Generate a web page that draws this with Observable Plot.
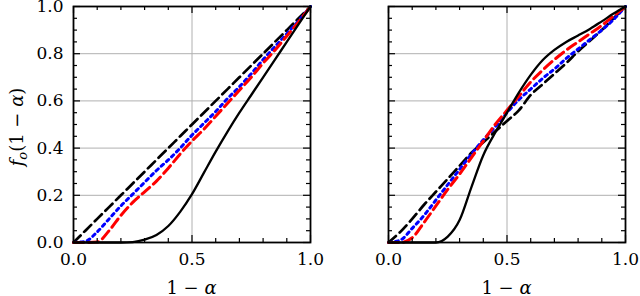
<!DOCTYPE html>
<html>
<head>
<meta charset="utf-8">
<script src="https://cdn.jsdelivr.net/npm/d3@7"></script>
<script src="https://cdn.jsdelivr.net/npm/@observablehq/plot@0.6"></script>
<style>
  html, body { margin: 0; padding: 0; background: white; }
  #wrap { position: relative; width: 640px; height: 296px; overflow: hidden; background: white; font-family: "DejaVu Serif", serif; }
  #wrap svg { position: absolute; top: 0; }
  .xlab { position: absolute; top: 279px; font-size: 18px; line-height: 18px; white-space: nowrap; transform: translateX(-50%); }
  .ylab { position: absolute; left: 17px; top: 127px; font-size: 18px; line-height: 18px; white-space: nowrap; transform: translate(-50%, -50%) rotate(-90deg); }
  .ylab sub { font-size: 13px; vertical-align: -4px; line-height: 0; }
</style>
</head>
<body>
<div id="wrap"></div>
<script>
// ---- data ----
const xGrid = [0, 0.05, 0.1, 0.15, 0.2, 0.25, 0.3, 0.35, 0.4, 0.45, 0.5, 0.55, 0.6, 0.65, 0.7, 0.75, 0.8, 0.85, 0.9, 0.95, 1];

// left panel
const leftDashed = [0, 0.05, 0.1, 0.15, 0.2, 0.25, 0.3, 0.35, 0.4, 0.45, 0.5, 0.55, 0.6, 0.65, 0.7, 0.75, 0.8, 0.85, 0.9, 0.95, 1];
const leftBlue   = [0, 0.005, 0.045, 0.1, 0.155, 0.205, 0.255, 0.305, 0.35, 0.4, 0.455, 0.505, 0.555, 0.61, 0.66, 0.715, 0.775, 0.83, 0.885, 0.94, 1];
const leftRed    = [0, 0, 0.002, 0.05, 0.115, 0.17, 0.215, 0.26, 0.315, 0.375, 0.43, 0.48, 0.535, 0.59, 0.645, 0.7, 0.76, 0.815, 0.875, 0.935, 1];
const leftSolid  = [0, 0, 0, 0, 0, 0.002, 0.012, 0.032, 0.07, 0.13, 0.205, 0.295, 0.385, 0.47, 0.55, 0.625, 0.7, 0.775, 0.85, 0.925, 1];

// right panel
const rightDashed = [0, 0.045, 0.1, 0.16, 0.215, 0.27, 0.325, 0.38, 0.425, 0.47, 0.515, 0.56, 0.625, 0.67, 0.715, 0.76, 0.81, 0.855, 0.9, 0.95, 1];
const rightBlue   = [0, 0.01, 0.06, 0.115, 0.18, 0.245, 0.31, 0.375, 0.435, 0.49, 0.55, 0.605, 0.65, 0.695, 0.735, 0.78, 0.82, 0.86, 0.9, 0.945, 1];
const rightRed    = [0, 0, 0.02, 0.085, 0.155, 0.225, 0.29, 0.36, 0.43, 0.5, 0.56, 0.62, 0.68, 0.73, 0.775, 0.815, 0.85, 0.885, 0.92, 0.96, 1];
const rightSolid  = [0, 0, 0, 0, 0, 0.025, 0.095, 0.235, 0.37, 0.465, 0.55, 0.635, 0.71, 0.772, 0.816, 0.85, 0.877, 0.905, 0.937, 0.97, 1];

// ticks
const xMajor = [0, 0.5, 1];
const xMinor = [0.1, 0.2, 0.3, 0.4, 0.6, 0.7, 0.8, 0.9];
const yMajor = [0, 0.2, 0.4, 0.6, 0.8, 1];
const yMinor = [0.05, 0.1, 0.15, 0.25, 0.3, 0.35, 0.45, 0.5, 0.55, 0.65, 0.7, 0.75, 0.85, 0.9, 0.95];
const xGridLines = [0.5];
const yGridLines = [0.2, 0.4, 0.6, 0.8];

const series = (arr) => xGrid.map((x, i) => ({x, y: arr[i]}));

function panel({dashed, blue, red, solid, marginLeft, marginRight, showY}) {
  const W = 320, H = 296, mt = 6, mb = 54;
  const innerW = W - marginLeft - marginRight, innerH = H - mt - mb;
  const majorLen = 7, minorLen = 4;
  const marks = [
    Plot.ruleX(xGridLines, {x: d => d, stroke: "#b0b0b0", strokeWidth: 1}),
    Plot.ruleY(yGridLines, {y: d => d, stroke: "#b0b0b0", strokeWidth: 1}),
    Plot.line(series(dashed), {x: "x", y: "y", stroke: "black", strokeWidth: 2.7, strokeDasharray: "10,5", curve: "monotone-x"}),
    Plot.line(series(blue), {x: "x", y: "y", stroke: "#0000ff", strokeWidth: 3, strokeDasharray: "3,4", curve: "monotone-x"}),
    Plot.line(series(red), {x: "x", y: "y", stroke: "#ff0000", strokeWidth: 3, strokeDasharray: "10,5", curve: "monotone-x"}),
    Plot.line(series(solid), {x: "x", y: "y", stroke: "black", strokeWidth: 2.3, curve: "monotone-x"}),
    // inward ticks: bottom / top
    Plot.ruleX(xMajor, {x: d => d, insetTop: innerH - majorLen, stroke: "black", strokeWidth: 1.2}),
    Plot.ruleX(xMinor, {x: d => d, insetTop: innerH - minorLen, stroke: "black", strokeWidth: 1.2}),
    Plot.ruleX(xMajor, {x: d => d, insetBottom: innerH - majorLen, stroke: "black", strokeWidth: 1.2}),
    Plot.ruleX(xMinor, {x: d => d, insetBottom: innerH - minorLen, stroke: "black", strokeWidth: 1.2}),
    // inward ticks: left / right
    Plot.ruleY(yMajor, {y: d => d, insetRight: innerW - majorLen, stroke: "black", strokeWidth: 1.2}),
    Plot.ruleY(yMinor, {y: d => d, insetRight: innerW - minorLen, stroke: "black", strokeWidth: 1.2}),
    Plot.ruleY(yMajor, {y: d => d, insetLeft: innerW - majorLen, stroke: "black", strokeWidth: 1.2}),
    Plot.ruleY(yMinor, {y: d => d, insetLeft: innerW - minorLen, stroke: "black", strokeWidth: 1.2}),
    Plot.frame({stroke: "black", strokeWidth: 1.8}),
    Plot.axisX(xMajor, {tickSize: 0, tickPadding: 10, tickFormat: d3.format(".1f"), label: null, fill: "black"})
  ];
  if (showY) marks.push(Plot.axisY(yMajor, {tickSize: 0, tickPadding: 10, tickFormat: d3.format(".1f"), label: null, fill: "black"}));
  return Plot.plot({
    width: W, height: H,
    marginTop: mt, marginBottom: mb, marginLeft, marginRight,
    x: {domain: [0, 1], axis: null},
    y: {domain: [0, 1], axis: null},
    style: {fontFamily: "'DejaVu Serif', serif", fontSize: "17px", background: "transparent", overflow: "visible", color: "black"},
    marks
  });
}

const wrap = document.getElementById("wrap");
const left = panel({dashed: leftDashed, blue: leftBlue, red: leftRed, solid: leftSolid, marginLeft: 73, marginRight: 10, showY: true});
left.style.left = "0px";
const right = panel({dashed: rightDashed, blue: rightBlue, red: rightRed, solid: rightSolid, marginLeft: 68, marginRight: 15, showY: false});
right.style.left = "320px";
wrap.appendChild(left);
wrap.appendChild(right);

function addXLabel(cx) {
  const d = document.createElement("div");
  d.className = "xlab";
  d.style.left = cx + "px";
  d.innerHTML = "1 − <i>α</i>";
  wrap.appendChild(d);
}
addXLabel(191.5);
addXLabel(506.5);
const yl = document.createElement("div");
yl.className = "ylab";
yl.innerHTML = "<i>f</i><sub><i>o</i></sub>(1 − <i>α</i>)";
wrap.appendChild(yl);
</script>
</body>
</html>
